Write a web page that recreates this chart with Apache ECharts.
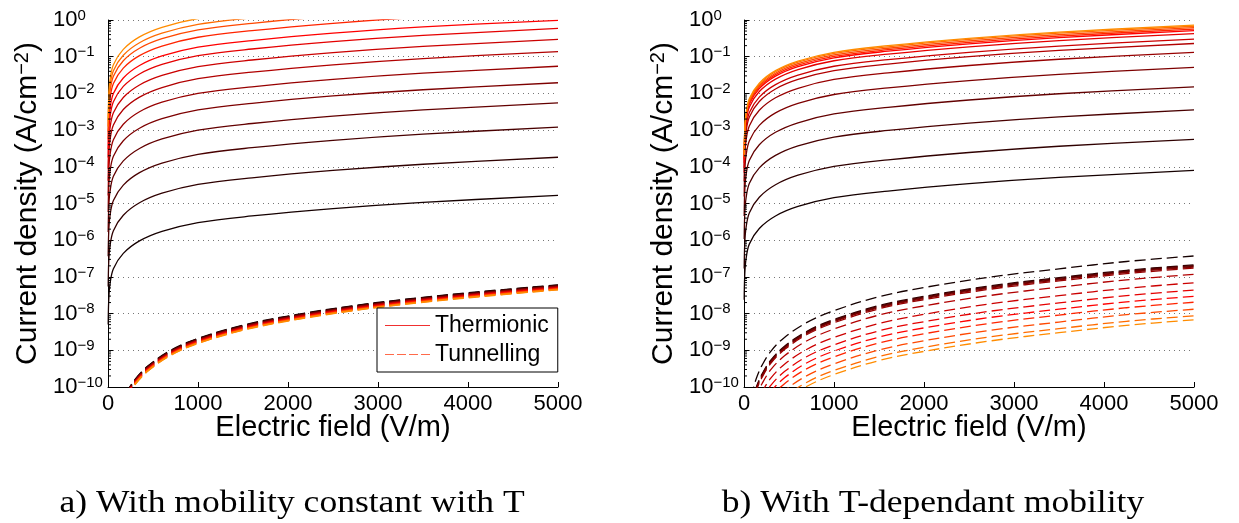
<!DOCTYPE html>
<html><head><meta charset="utf-8">
<script src="https://cdn.jsdelivr.net/npm/echarts@6/dist/echarts.min.js"></script>
<style>html,body{margin:0;padding:0;background:#fff}#c{width:1239px;height:523px}</style>
</head><body><div id="c"></div>
<script>
// ---- data (current densities stored as log10 of A/cm^2) ----
const fieldThermionic = [2, 8, 22, 60, 170, 350, 600, 1000, 1600, 2500, 3500, 5000];
const fieldTunnelA = [200, 300, 450, 700, 1000, 1500, 2000, 2750, 3500, 4250, 5000];
const fieldTunnelB = [80, 107, 150, 200, 300, 450, 700, 1000, 1500, 2000, 2750, 3500, 4250, 5000];

// a) mobility constant with T : thermionic, one row per temperature (cold -> hot)
const thermionicA = [
  [-8.30,-7.65,-7.20,-6.78,-6.36,-6.02,-5.76,-5.52,-5.34,-5.14,-4.97,-4.78],
  [-7.26,-6.61,-6.16,-5.74,-5.32,-4.98,-4.72,-4.48,-4.30,-4.10,-3.93,-3.74],
  [-6.44,-5.79,-5.34,-4.92,-4.50,-4.16,-3.90,-3.66,-3.48,-3.28,-3.11,-2.92],
  [-5.78,-5.13,-4.68,-4.26,-3.84,-3.50,-3.24,-3.00,-2.82,-2.62,-2.45,-2.26],
  [-5.23,-4.58,-4.13,-3.71,-3.29,-2.95,-2.69,-2.45,-2.27,-2.07,-1.90,-1.71],
  [-4.78,-4.13,-3.68,-3.26,-2.84,-2.50,-2.24,-2.00,-1.82,-1.62,-1.45,-1.26],
  [-4.38,-3.73,-3.28,-2.86,-2.44,-2.10,-1.84,-1.60,-1.42,-1.22,-1.05,-0.86],
  [-4.05,-3.40,-2.95,-2.53,-2.11,-1.77,-1.51,-1.27,-1.09,-0.89,-0.72,-0.53],
  [-3.75,-3.10,-2.65,-2.23,-1.81,-1.47,-1.21,-0.97,-0.79,-0.59,-0.42,-0.23],
  [-3.52,-2.87,-2.42,-2.00,-1.58,-1.24,-0.98,-0.74,-0.56,-0.36,-0.19,-0.01],
  [-3.25,-2.60,-2.15,-1.73,-1.31,-0.97,-0.71,-0.47,-0.29,-0.09,0.08,0.27],
  [-3.05,-2.40,-1.95,-1.53,-1.11,-0.77,-0.51,-0.27,-0.09,0.11,0.28,0.47],
  [-2.90,-2.25,-1.80,-1.38,-0.96,-0.62,-0.36,-0.12,0.06,0.26,0.43,0.62],
  [-2.74,-2.09,-1.64,-1.22,-0.80,-0.46,-0.20,0.04,0.22,0.42,0.59,0.78]
];
// a) tunnelling
const tunnellingA = [
  [-10.18,-9.80,-9.42,-9.00,-8.68,-8.32,-8.07,-7.78,-7.56,-7.38,-7.22],
  [-10.19,-9.81,-9.43,-9.01,-8.69,-8.33,-8.08,-7.79,-7.57,-7.39,-7.23],
  [-10.20,-9.82,-9.44,-9.02,-8.70,-8.34,-8.09,-7.80,-7.58,-7.40,-7.24],
  [-10.21,-9.83,-9.45,-9.03,-8.71,-8.35,-8.10,-7.81,-7.59,-7.41,-7.25],
  [-10.22,-9.84,-9.46,-9.04,-8.72,-8.36,-8.11,-7.82,-7.60,-7.42,-7.26],
  [-10.23,-9.85,-9.47,-9.05,-8.73,-8.37,-8.12,-7.83,-7.61,-7.43,-7.27],
  [-10.24,-9.86,-9.48,-9.06,-8.74,-8.38,-8.13,-7.84,-7.62,-7.44,-7.28],
  [-10.25,-9.87,-9.49,-9.07,-8.75,-8.39,-8.14,-7.85,-7.63,-7.45,-7.29],
  [-10.26,-9.88,-9.50,-9.08,-8.76,-8.40,-8.15,-7.86,-7.64,-7.46,-7.30],
  [-10.27,-9.89,-9.51,-9.09,-8.77,-8.41,-8.16,-7.87,-7.65,-7.47,-7.31],
  [-10.28,-9.90,-9.52,-9.10,-8.78,-8.42,-8.17,-7.88,-7.66,-7.48,-7.32],
  [-10.29,-9.91,-9.53,-9.11,-8.79,-8.43,-8.18,-7.89,-7.67,-7.49,-7.33],
  [-10.30,-9.92,-9.54,-9.12,-8.80,-8.44,-8.19,-7.90,-7.68,-7.50,-7.34],
  [-10.31,-9.93,-9.55,-9.13,-8.81,-8.45,-8.20,-7.91,-7.69,-7.51,-7.35]
];
// b) T-dependant mobility : thermionic
const thermionicB = [
  [-7.62,-6.97,-6.52,-6.10,-5.68,-5.34,-5.08,-4.84,-4.66,-4.46,-4.29,-4.10],
  [-6.77,-6.12,-5.67,-5.25,-4.83,-4.49,-4.23,-3.99,-3.81,-3.61,-3.44,-3.25],
  [-5.97,-5.32,-4.87,-4.45,-4.03,-3.69,-3.43,-3.19,-3.01,-2.81,-2.64,-2.45],
  [-5.34,-4.69,-4.24,-3.82,-3.40,-3.06,-2.80,-2.56,-2.38,-2.18,-2.01,-1.82],
  [-4.81,-4.16,-3.71,-3.29,-2.87,-2.53,-2.27,-2.03,-1.85,-1.65,-1.48,-1.29],
  [-4.40,-3.75,-3.30,-2.88,-2.46,-2.12,-1.86,-1.62,-1.44,-1.24,-1.07,-0.88],
  [-4.16,-3.51,-3.06,-2.64,-2.22,-1.88,-1.62,-1.38,-1.20,-1.00,-0.83,-0.64],
  [-4.04,-3.39,-2.94,-2.52,-2.10,-1.76,-1.50,-1.26,-1.08,-0.88,-0.71,-0.52],
  [-3.89,-3.24,-2.79,-2.37,-1.95,-1.61,-1.35,-1.11,-0.93,-0.73,-0.56,-0.37],
  [-3.81,-3.16,-2.71,-2.29,-1.87,-1.53,-1.27,-1.03,-0.85,-0.65,-0.48,-0.29],
  [-3.77,-3.12,-2.67,-2.25,-1.83,-1.49,-1.23,-0.99,-0.81,-0.61,-0.44,-0.25],
  [-3.73,-3.08,-2.63,-2.21,-1.79,-1.45,-1.19,-0.95,-0.77,-0.57,-0.40,-0.21],
  [-3.69,-3.04,-2.59,-2.17,-1.75,-1.41,-1.15,-0.91,-0.73,-0.53,-0.36,-0.17],
  [-3.66,-3.01,-2.56,-2.14,-1.72,-1.38,-1.12,-0.88,-0.70,-0.50,-0.33,-0.14]
];
// b) tunnelling
const tunnellingB = [
  [-10.28,-10.00,-9.68,-9.41,-9.02,-8.65,-8.24,-7.92,-7.54,-7.29,-7.00,-6.78,-6.58,-6.43],
  [-10.52,-10.24,-9.92,-9.65,-9.26,-8.89,-8.48,-8.16,-7.78,-7.53,-7.24,-7.02,-6.82,-6.67],
  [-10.54,-10.26,-9.94,-9.67,-9.28,-8.91,-8.50,-8.18,-7.80,-7.55,-7.26,-7.04,-6.84,-6.69],
  [-10.56,-10.28,-9.96,-9.69,-9.30,-8.93,-8.52,-8.20,-7.82,-7.57,-7.28,-7.06,-6.86,-6.71],
  [-10.58,-10.30,-9.98,-9.71,-9.32,-8.95,-8.54,-8.22,-7.84,-7.59,-7.30,-7.08,-6.88,-6.73],
  [-10.61,-10.33,-10.01,-9.74,-9.35,-8.98,-8.57,-8.25,-7.87,-7.62,-7.33,-7.11,-6.91,-6.76],
  [-10.78,-10.50,-10.18,-9.91,-9.52,-9.15,-8.74,-8.42,-8.04,-7.79,-7.50,-7.28,-7.08,-6.93],
  [-11.01,-10.73,-10.41,-10.14,-9.75,-9.38,-8.97,-8.65,-8.27,-8.02,-7.73,-7.51,-7.31,-7.16],
  [-11.21,-10.93,-10.61,-10.34,-9.95,-9.58,-9.17,-8.85,-8.47,-8.22,-7.93,-7.71,-7.51,-7.36],
  [-11.38,-11.10,-10.78,-10.51,-10.12,-9.75,-9.34,-9.02,-8.64,-8.39,-8.10,-7.88,-7.68,-7.53],
  [-11.54,-11.26,-10.94,-10.67,-10.28,-9.91,-9.50,-9.18,-8.80,-8.55,-8.26,-8.04,-7.84,-7.69],
  [-11.73,-11.45,-11.13,-10.86,-10.47,-10.10,-9.69,-9.37,-8.99,-8.74,-8.45,-8.23,-8.03,-7.88],
  [-11.91,-11.63,-11.31,-11.04,-10.65,-10.28,-9.87,-9.55,-9.17,-8.92,-8.63,-8.41,-8.21,-8.06],
  [-12.02,-11.74,-11.42,-11.15,-10.76,-10.39,-9.98,-9.66,-9.28,-9.03,-8.74,-8.52,-8.32,-8.17]
];
const xTicks = [0, 1000, 2000, 3000, 4000, 5000];
const decadeExponents = [-10,-9,-8,-7,-6,-5,-4,-3,-2,-1,0];
const minorTickMultipliers = [2,3,4,5,6,7,8,9];
const captions = ['a) With mobility constant with T', 'b) With T-dependant mobility'];

// ---- style ----
const colors = ['#150000','#2f0000','#490000','#630000','#7d0000','#970000','#b10000',
                '#cb0000','#e50000','#ff0000','#ff2400','#ff4800','#ff6c00','#ff8c00'];
const SANS = 'Liberation Sans';

function lineSeries(field, rows, axisIdx, dashed, name, width) {
  return rows.map((row, k) => ({
    type: 'line', name: name, xAxisIndex: axisIdx, yAxisIndex: axisIdx,
    data: field.map((e, i) => [e, Math.pow(10, row[i])]),
    symbol: 'none', showSymbol: false, smooth: 0.35,
    clip: true, silent: true, animation: false,
    lineStyle: { color: colors[k], width: width, type: dashed ? [11, 5] : 'solid' },
    itemStyle: { color: colors[k] }
  }));
}
const minorVals = [];
decadeExponents.slice(0, -1).forEach(e => minorTickMultipliers.forEach(m => minorVals.push([0, m * Math.pow(10, e)])));
function minorTicks(axisIdx) {
  return {
    type: 'custom', name: 'minor' + axisIdx, xAxisIndex: axisIdx, yAxisIndex: axisIdx,
    silent: true, animation: false, clip: false, z: 5,
    data: minorVals,
    renderItem: (params, api) => {
      const p = api.coord([0, api.value(1)]);
      return { type: 'line', shape: { x1: p[0], y1: p[1], x2: p[0] + 3, y2: p[1] },
               style: { stroke: '#000', lineWidth: 1 } };
    }
  };
}
function yLabel(v) {
  const e = Math.round(Math.log10(v));
  return '{b|10}{s|' + (e < 0 ? '\u2212' + (-e) : String(e)) + '}';
}
function xAxis(idx) {
  return {
    type: 'value', gridIndex: idx, min: xTicks[0], max: xTicks[xTicks.length - 1], interval: 1000,
    axisLine: { show: true, onZero: false, lineStyle: { color: '#000', width: 1 } },
    axisTick: { show: true, inside: true, length: 5, lineStyle: { color: '#000' } },
    axisLabel: { fontSize: 22, fontFamily: SANS, color: '#000', margin: 6, formatter: v => String(v) },
    splitLine: { show: false },
    name: 'Electric field (V/m)', nameLocation: 'middle', nameGap: 26, nameMoveOverlap: false,
    nameTextStyle: { fontSize: 29, fontFamily: SANS, color: '#000' }
  };
}
function yAxis(idx) {
  return {
    type: 'log', logBase: 10, gridIndex: idx, min: 1e-10, max: 1, interval: 1,
    axisLine: { show: true, lineStyle: { color: '#000', width: 1 } },
    axisTick: { show: true, inside: true, length: 5, lineStyle: { color: '#000' } },
    axisLabel: {
      formatter: yLabel, align: 'left', margin: 55, color: '#000',
      rich: {
        b: { fontSize: 22, fontFamily: SANS, color: '#000', lineHeight: 24 },
        s: { fontSize: 15, fontFamily: SANS, color: '#000', lineHeight: 11, verticalAlign: 'top' }
      }
    },
    splitLine: { show: true, lineStyle: { color: '#777', width: 1, type: [1, 4] } },
    name: 'Current density (A/cm{s|\u22122})', nameLocation: 'middle', nameGap: 64, nameMoveOverlap: false,
    nameTextStyle: {
      fontSize: 30, fontFamily: SANS, color: '#000', lineHeight: 32,
      rich: { s: { fontSize: 20, fontFamily: SANS, color: '#000', lineHeight: 16, verticalAlign: 'top' } }
    }
  };
}

const chart = echarts.init(document.getElementById('c'), null, { renderer: 'canvas' });
chart.setOption({
  animation: false,
  backgroundColor: '#fff',
  textStyle: { fontFamily: SANS },
  grid: [
    { left: 108, top: 20, width: 450, height: 367, outerBoundsMode: 'none', containLabel: false },
    { left: 744, top: 20, width: 450, height: 367, outerBoundsMode: 'none', containLabel: false }
  ],
  xAxis: [xAxis(0), xAxis(1)],
  yAxis: [yAxis(0), yAxis(1)],
  legend: {
    left: 377, top: 308, orient: 'vertical', selectedMode: false,
    data: [
      { name: 'Thermionic', icon: 'path://M0,0H45V1H0Z', itemStyle: { color: '#f03030', borderWidth: 0 } },
      { name: 'Tunnelling', icon: 'path://M0,0H9V1H0Z M12,0H21V1H12Z M24,0H33V1H24Z M36,0H45V1H36Z', itemStyle: { color: '#ff6a4a', borderWidth: 0 } }
    ],
    itemWidth: 45, itemHeight: 1.6, itemGap: 6, padding: [6, 9, 6, 8],
    borderColor: '#000', borderWidth: 1, borderRadius: 0, backgroundColor: '#fff',
    textStyle: { fontSize: 23, fontFamily: SANS, color: '#000' }
  },
  graphic: [
    { type: 'text', x: 292, y: 504, scaleX: 1.11, silent: true,
      style: { text: captions[0], fontSize: 32, fontFamily: 'Liberation Serif', fill: '#000',
               align: 'center', verticalAlign: 'middle', textAlign: 'center', textVerticalAlign: 'middle' } },
    { type: 'text', x: 933, y: 504, scaleX: 1.11, silent: true,
      style: { text: captions[1], fontSize: 32, fontFamily: 'Liberation Serif', fill: '#000',
               align: 'center', verticalAlign: 'middle', textAlign: 'center', textVerticalAlign: 'middle' } }
  ],
  series: [].concat(
    lineSeries(fieldThermionic, thermionicA, 0, false, 'Thermionic', 1.3),
    lineSeries(fieldTunnelA, tunnellingA, 0, true, 'Tunnelling', 1.6),
    lineSeries(fieldThermionic, thermionicB, 1, false, 'Thermionic b', 1.3),
    lineSeries(fieldTunnelB, tunnellingB, 1, true, 'Tunnelling b', 1.3),
    [minorTicks(0), minorTicks(1)]
  )
});
</script>
</body></html>
